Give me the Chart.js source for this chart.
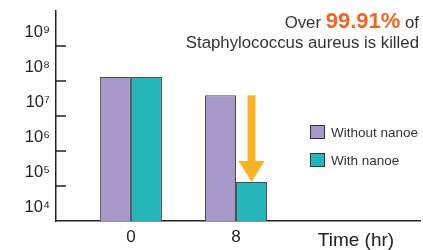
<!DOCTYPE html>
<html>
<head>
<meta charset="utf-8">
<script src="https://cdn.jsdelivr.net/npm/chart.js@4"></script>
<style>
  html, body { margin: 0; padding: 0; background: #fff; }
  #wrap { position: relative; width: 423px; height: 250px; font-family: "Liberation Sans", Arial, sans-serif; }
  #chart { position: absolute; left: 0; top: 0; }
  .headline { position: absolute; right: 4px; top: 11px; text-align: right; color: #333; font-size: 16.8px; line-height: 20px; }
  .headline b { color: #f26522; font-size: 22px; }
  .legend { position: absolute; left: 310px; top: 124px; font-size: 13.5px; color: #333; }
  .legend div { display: flex; align-items: center; height: 16px; margin-bottom: 12px; }
  .legend span { display: inline-block; width: 13px; height: 12px; border: 1px solid #333; margin-right: 6px; }
</style>
</head>
<body>
<div id="wrap">
  <canvas id="chart" width="423" height="250"></canvas>
  <div class="headline">Over <b>99.91%</b> of<br>Staphylococcus aureus is killed</div>
  <div class="legend" id="legend"></div>
</div>
<script>
// Bacteria count (CFU)
const timesHr = [0, 8];
const withoutNanoe = [1.3e8, 3.9e7];
const withNanoe = [1.3e8, 1.3e5];
const seriesNames = ['Without nanoe', 'With nanoe'];
const seriesColors = ['#a699ca', '#24b6b9'];

// decade boundaries (tick marks) and decade labels
const decadeMarks = [1e5, 1e6, 1e7, 1e8, 1e9];
const decadeLabels = [4, 5, 6, 7, 8, 9];
const superDigits = { 4: '⁴', 5: '⁵', 6: '⁶', 7: '⁷', 8: '⁸', 9: '⁹' };

const legendBox = document.getElementById('legend');
seriesNames.forEach((name, i) => {
    legendBox.innerHTML += `<div><span style="background:${seriesColors[i]}"></span>${name}</div>`;
});

// Inner tick marks, the orange reduction arrow and the x title
const decorations = {
    id: 'decorations',
    afterDraw(chart) {
        const { ctx, chartArea, scales: { y } } = chart;
        ctx.save();
        ctx.strokeStyle = '#222';
        ctx.lineWidth = 1.5;
        decadeMarks.forEach(v => {
            const py = Math.round(y.getPixelForValue(v));
            ctx.beginPath();
            ctx.moveTo(chartArea.left, py);
            ctx.lineTo(chartArea.left + 10, py);
            ctx.stroke();
        });

        // arrow from the "without" bar top down to the "with" bar top at 8 hr
        const from = chart.getDatasetMeta(0).data[1];
        const to = chart.getDatasetMeta(1).data[1];
        const ax = to.x;
        const top = from.y;
        const tip = to.y;
        ctx.fillStyle = '#f6b323';
        ctx.fillRect(ax - 4, top, 8, tip - top - 20);
        ctx.beginPath();
        ctx.moveTo(ax - 13, tip - 21);
        ctx.lineTo(ax + 13, tip - 21);
        ctx.lineTo(ax, tip);
        ctx.closePath();
        ctx.fill();

        ctx.fillStyle = '#222';
        ctx.font = '19px "Liberation Sans Narrow", "Liberation Sans", sans-serif';
        ctx.textAlign = 'center';
        ctx.textBaseline = 'middle';
        ctx.fillText('Time (hr)', chartArea.left + 300, chartArea.bottom + 20);
        ctx.restore();
    }
};

const ctx = document.getElementById('chart').getContext('2d');
new Chart(ctx, {
    type: 'bar',
    data: {
        datasets: [
            {
                label: seriesNames[0],
                data: timesHr.map((t, i) => ({ x: t, y: withoutNanoe[i] })),
                backgroundColor: seriesColors[0],
                borderColor: '#4a4a4a',
                borderWidth: 1,
                borderSkipped: 'bottom'
            },
            {
                label: seriesNames[1],
                data: timesHr.map((t, i) => ({ x: t, y: withNanoe[i] })),
                backgroundColor: seriesColors[1],
                borderColor: '#4a4a4a',
                borderWidth: 1,
                borderSkipped: 'bottom'
            }
        ]
    },
    options: {
        responsive: false,
        animation: false,
        categoryPercentage: 0.59,
        barPercentage: 1,
        layout: { padding: { top: 11, right: 3, left: 0, bottom: 0 } },
        plugins: { legend: { display: false }, tooltip: { enabled: false } },
        scales: {
            x: {
                type: 'linear',
                offset: false,
                min: -5.7,
                max: 22,
                afterBuildTicks: (scale) => { scale.ticks = timesHr.map(v => ({ value: v })); },
                afterFit: (scale) => { scale.height = 29; },
                grid: { display: false, drawTicks: false, offset: false },
                border: { color: '#222', width: 1.5 },
                ticks: {
                    color: '#222',
                    padding: 6,
                    font: { family: "'Liberation Sans', Arial, sans-serif", size: 17 },
                    callback: (v) => String(v)
                }
            },
            y: {
                type: 'logarithmic',
                min: 1e4,
                max: 1e10,
                // labels sit a little below the middle of each decade band
                afterBuildTicks: (scale) => { scale.ticks = decadeLabels.map(e => ({ value: Math.pow(10, e + 0.4) })); },
                afterFit: (scale) => {
                    scale.width = 56;
                    scale.paddingTop = 0;
                    scale.paddingBottom = 0;
                },
                grid: { display: false, drawTicks: false },
                border: { color: '#222', width: 1.5 },
                ticks: {
                    color: '#222',
                    padding: 6,
                    font: { family: "'Liberation Sans', Arial, sans-serif", size: 16.5 },
                    callback: (v) => '10' + superDigits[Math.floor(Math.log10(v))]
                }
            }
        }
    },
    plugins: [decorations]
});
</script>
</body>
</html>
